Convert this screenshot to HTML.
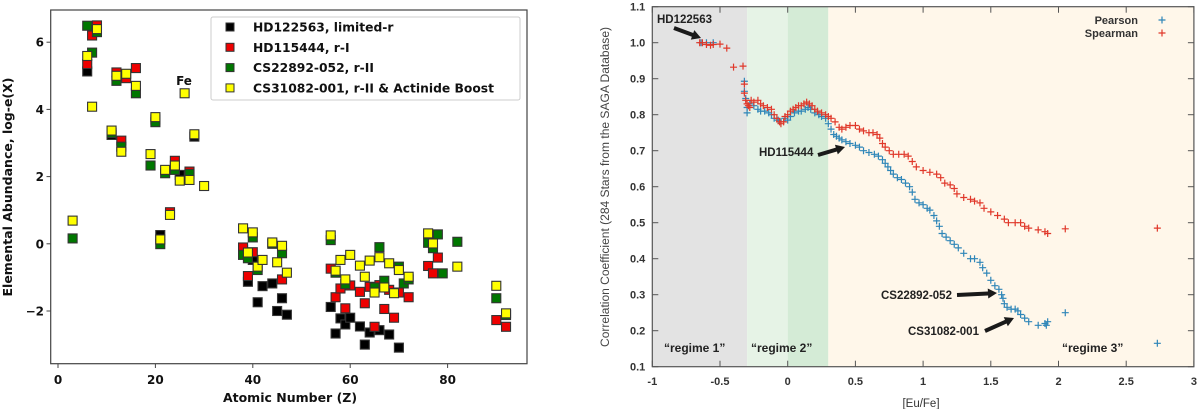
<!DOCTYPE html>
<html><head><meta charset="utf-8"><style>
html,body{margin:0;padding:0;background:#fff;}
svg{display:block;}
</style></head><body>
<svg id="root" width="1200" height="409" viewBox="0 0 1200 409" xmlns="http://www.w3.org/2000/svg">
<g id="left"></g>
<g id="right"></g>
</svg>
<script>
// ===== Left chart data =====
const blackZ=[6,11,21,25,28,38,39,40,41,42,44,45,46,47,56,57,58,59,60,62,63,64,66,68,70];
const blackV=[5.13,3.24,0.26,2.05,3.19,-0.18,-1.13,-0.48,-1.74,-1.26,-1.18,-2.0,-1.62,-2.11,-1.88,-2.67,-2.22,-2.4,-2.2,-2.46,-3.0,-2.64,-2.57,-2.7,-3.09];
const redZ=[6,7,8,12,13,14,16,20,23,24,27,38,39,40,46,56,57,58,59,60,62,63,64,65,66,67,68,69,70,72,76,77,78,90,92];
const redV=[5.35,6.2,6.5,5.1,3.07,4.93,5.23,3.7,0.94,2.47,2.15,-0.11,-0.96,-0.25,-1.06,-0.74,-1.59,-1.33,-1.92,-1.24,-1.43,-1.77,-1.28,-2.47,-1.23,-1.94,-1.37,-2.2,-1.45,-1.59,-0.66,-0.88,-0.41,-2.27,-2.47];
const greenZ=[3,6,7,8,11,12,13,16,19,20,21,22,24,27,38,39,40,41,44,46,56,57,59,65,66,67,70,71,72,76,77,78,79,82,90,92];
const greenV=[0.16,6.49,5.69,6.3,3.3,4.85,2.89,4.48,2.33,3.62,-0.01,2.1,2.2,2.08,-0.33,-0.43,0.19,-0.78,0.0,-0.28,0.11,-0.86,-1.2,-1.3,-0.1,-1.1,-0.68,-1.18,-1.06,0.03,-0.13,0.28,-0.88,0.06,-1.62,-2.12];
const yellowZ=[3,6,7,8,11,12,13,14,16,19,20,21,22,23,24,25,26,27,28,30,38,39,40,41,42,44,45,46,47,56,57,58,59,60,62,63,64,65,66,67,68,69,70,72,76,77,82,90,92];
const yellowV=[0.69,5.59,4.08,6.39,3.37,5.0,2.74,5.06,4.7,2.67,3.77,0.13,2.2,0.86,2.33,1.88,4.48,1.9,3.26,1.72,0.46,-0.26,0.34,-0.68,-0.48,0.04,-0.55,-0.06,-0.86,0.25,-0.8,-0.48,-1.06,-0.33,-0.65,-0.98,-0.5,-1.45,-0.4,-1.3,-0.58,-1.47,-0.78,-0.98,0.31,0.01,-0.68,-1.25,-2.07];
const leftXTicks=[0,20,40,60,80];
const leftYTicks=[6,4,2,0,-2];
const legendLabels=["HD122563, limited-r","HD115444, r-I","CS22892-052, r-II","CS31082-001, r-II & Actinide Boost"];

// ===== Right chart data =====
const spearX=[-0.65,-0.63,-0.6,-0.57,-0.55,-0.5,-0.45,-0.4,-0.33,-0.32,-0.32,-0.31,-0.3,-0.29,-0.28,-0.27,-0.25,-0.22,-0.2,-0.18,-0.15,-0.12,-0.1,-0.08,-0.06,-0.05,-0.03,-0.02,0.0,0.02,0.04,0.06,0.08,0.10,0.12,0.14,0.16,0.18,0.20,0.22,0.25,0.28,0.30,0.32,0.35,0.38,0.40,0.43,0.46,0.5,0.53,0.56,0.6,0.63,0.66,0.68,0.7,0.72,0.75,0.78,0.82,0.86,0.89,0.92,0.95,1.0,1.05,1.1,1.13,1.16,1.2,1.23,1.25,1.3,1.35,1.38,1.42,1.45,1.5,1.55,1.6,1.63,1.68,1.72,1.75,1.78,1.85,1.9,1.92,2.05,2.73];
const spearY=[1.0,1.0,0.995,0.993,0.995,0.996,0.985,0.932,0.935,0.885,0.86,0.84,0.83,0.825,0.82,0.84,0.835,0.84,0.83,0.825,0.82,0.815,0.80,0.79,0.78,0.775,0.78,0.795,0.80,0.81,0.815,0.82,0.825,0.825,0.83,0.835,0.83,0.825,0.815,0.81,0.805,0.80,0.795,0.79,0.78,0.765,0.76,0.765,0.77,0.77,0.76,0.755,0.75,0.75,0.745,0.735,0.72,0.71,0.70,0.69,0.69,0.69,0.685,0.67,0.655,0.645,0.64,0.635,0.625,0.61,0.605,0.595,0.58,0.57,0.565,0.56,0.555,0.54,0.53,0.52,0.51,0.50,0.50,0.50,0.49,0.485,0.48,0.475,0.47,0.483,0.485];
const pearX=[-0.64,-0.6,-0.55,-0.32,-0.32,-0.31,-0.3,-0.3,-0.28,-0.25,-0.22,-0.2,-0.17,-0.14,-0.12,-0.1,-0.07,-0.05,-0.02,0.0,0.02,0.05,0.08,0.1,0.13,0.15,0.17,0.2,0.23,0.25,0.28,0.3,0.32,0.34,0.36,0.38,0.4,0.43,0.46,0.5,0.53,0.56,0.6,0.64,0.67,0.7,0.72,0.74,0.76,0.78,0.81,0.84,0.87,0.9,0.92,0.94,0.97,1.0,1.03,1.05,1.08,1.1,1.12,1.14,1.17,1.2,1.23,1.26,1.3,1.35,1.38,1.42,1.44,1.47,1.5,1.53,1.56,1.58,1.59,1.6,1.62,1.65,1.68,1.7,1.72,1.75,1.78,1.85,1.9,1.92,1.91,2.05,2.73];
const pearY=[1.0,1.0,1.0,0.893,0.865,0.845,0.82,0.805,0.83,0.825,0.815,0.81,0.81,0.805,0.80,0.79,0.785,0.78,0.79,0.785,0.795,0.805,0.81,0.81,0.815,0.82,0.815,0.805,0.8,0.795,0.79,0.775,0.76,0.745,0.74,0.735,0.73,0.725,0.72,0.715,0.71,0.70,0.695,0.69,0.685,0.675,0.665,0.655,0.645,0.635,0.625,0.62,0.61,0.60,0.585,0.565,0.555,0.55,0.54,0.535,0.52,0.505,0.49,0.47,0.46,0.45,0.44,0.43,0.415,0.40,0.40,0.39,0.375,0.36,0.34,0.325,0.315,0.30,0.29,0.275,0.265,0.26,0.26,0.255,0.245,0.235,0.225,0.215,0.22,0.225,0.215,0.25,0.165];
const rightXTicks=[-1,-0.5,0,0.5,1,1.5,2,2.5,3];
const rightXLabels=["-1","-0.5","0","0.5","1","1.5","2","2.5","3"];
const rightYTicks=[1.1,1.0,0.9,0.8,0.7,0.6,0.5,0.4,0.3,0.2,0.1];
const rightYLabels=["1.1","1.0","0.9","0.8","0.7","0.6","0.5","0.4","0.3","0.2","0.1"];
const regimeStarts=[-1,-0.3,0,0.3];
const regimeEnds=[-0.3,0,0.3,3];

const NS="http://www.w3.org/2000/svg";
function mk(parent,tag,attrs,text){const e=document.createElementNS(NS,tag);for(const k in attrs)e.setAttribute(k,attrs[k]);if(text!==undefined)e.textContent=text;parent.appendChild(e);return e;}

// ----- Left chart -----
const L=document.getElementById('left');
const lx=z=>58+z*4.87;
const ly=v=>243.8-v*33.6;
let frame=mk(L,'rect',{x:50.7,y:10,width:476.3,height:353.7,fill:'#fff',stroke:'#444','stroke-width':1.2});


leftXTicks.forEach(t=>{
  const tk=mk(L,'line',{x1:lx(t),x2:lx(t),y1:363.7,y2:368,stroke:'#444','stroke-width':1});
  
  
  const tl=mk(L,'text',{x:lx(t),y:384,'text-anchor':'middle','font-family':'DejaVu Sans, sans-serif','font-weight':'bold','font-size':12,fill:'#111'},String(t));
  
  
});
leftYTicks.forEach(t=>{
  const tk=mk(L,'line',{x1:46.5,x2:50.7,y1:ly(t),y2:ly(t),stroke:'#444','stroke-width':1});
  
  
  const tl=mk(L,'text',{x:44,y:ly(t)+4.5,'text-anchor':'end','font-family':'DejaVu Sans, sans-serif','font-weight':'bold','font-size':12,fill:'#111'},t<0?'\u2212'+Math.abs(t):String(t));
  
  
});
let xt=mk(L,'text',{x:290,y:402,'text-anchor':'middle','font-family':'DejaVu Sans, sans-serif','font-weight':'bold','font-size':12.5,fill:'#111'},'Atomic Number (Z)');


let yt=mk(L,'text',{x:0,y:0,transform:'translate(12,187) rotate(-90)','text-anchor':'middle','font-family':'DejaVu Sans, sans-serif','font-weight':'bold','font-size':12.5,fill:'#111'},'Elemental Abundance, log-e(X)');



const series=[[blackZ,blackV,'#000000','hd122563'],[redZ,redV,'#ee0000','hd115444'],[greenZ,greenV,'#007700','cs22892-052'],[yellowZ,yellowV,'#ffff00','cs31082-001']];
series.forEach(s=>{
  const g=mk(L,'g',{});
  
  
  s[0].forEach((z,i)=>{
    const r=mk(g,'rect',{x:lx(z)-4.5,y:ly(s[1][i])-4.5,width:9,height:9,fill:s[2],stroke:'#333','stroke-width':1.1});
    
    
  });
});
let fe=mk(L,'text',{x:184,y:85,'text-anchor':'middle','font-family':'DejaVu Sans, sans-serif','font-weight':'bold','font-size':12,fill:'#111'},'Fe');


const lg=mk(L,'g',{});


mk(lg,'rect',{x:211,y:17,width:309,height:83,rx:2,fill:'#fff',stroke:'#ccc','stroke-width':1});
legendLabels.forEach((lab,i)=>{
  const yy=27+i*20.3;
  const e=mk(lg,'g',{});
  
  
  mk(e,'rect',{x:226,y:yy-4,width:8,height:8,fill:series[i][2],stroke:'#333','stroke-width':1});
  mk(e,'text',{x:253,y:yy+4.5,'font-family':'DejaVu Sans, sans-serif','font-weight':'bold','font-size':12.3,fill:'#111'},lab);
});

// ----- Right chart -----
const R=document.getElementById('right');
const rx=v=>787.7+v*135.4;
const ry=v=>366.7-(v-0.1)*360;
const regCols=['#e3e3e3','#e6f3e6','#d4ebd6','#fff7ea'];
regimeStarts.forEach((s,i)=>{
  const r=mk(R,'rect',{x:rx(s),y:ry(1.1),width:rx(regimeEnds[i])-rx(s),height:ry(0.1)-ry(1.1),fill:regCols[i]});
  
  
});
let rf=mk(R,'rect',{x:rx(-1),y:ry(1.1),width:rx(3)-rx(-1),height:ry(0.1)-ry(1.1),fill:'none',stroke:'#555','stroke-width':1.2});


rightYTicks.forEach((t,i)=>{
  const g=mk(R,'g',{});
  
  
  mk(g,'line',{x1:rx(-1),x2:rx(-1)+6,y1:ry(t),y2:ry(t),stroke:'#555','stroke-width':1});
  mk(g,'line',{x1:rx(3)-6,x2:rx(3),y1:ry(t),y2:ry(t),stroke:'#555','stroke-width':1});
  mk(g,'text',{x:rx(-1)-7,y:ry(t)+4,'text-anchor':'end','font-family':'Liberation Sans, sans-serif','font-weight':'bold','font-size':11,fill:'#333'},rightYLabels[i]);
});
rightXTicks.forEach((t,i)=>{
  const g=mk(R,'g',{});
  
  
  mk(g,'line',{x1:rx(t),x2:rx(t),y1:ry(0.1),y2:ry(0.1)-6,stroke:'#555','stroke-width':1});
  mk(g,'line',{x1:rx(t),x2:rx(t),y1:ry(1.1),y2:ry(1.1)+6,stroke:'#555','stroke-width':1});
  mk(g,'text',{x:rx(t),y:385,'text-anchor':'middle','font-family':'Liberation Sans, sans-serif','font-weight':'bold','font-size':11,fill:'#333'},rightXLabels[i]);
});
let rxt=mk(R,'text',{x:921,y:407,'text-anchor':'middle','font-family':'Liberation Sans, sans-serif','font-size':11.5,fill:'#333'},'[Eu/Fe]');


let ryt=mk(R,'text',{x:0,y:0,transform:'translate(609,187) rotate(-90)','text-anchor':'middle','font-family':'Liberation Sans, sans-serif','font-size':11.5,fill:'#444',textLength:320,lengthAdjust:'spacingAndGlyphs'},'Correlation Coefficient (284 Stars from the SAGA Database)');



function plus(g,x,y,c){mk(g,'path',{d:`M${x-3.5} ${y}H${x+3.5}M${x} ${y-3.5}V${y+3.5}`,stroke:c,'stroke-width':1.2,fill:'none'});}
const pg=mk(R,'g',{});


pearX.forEach((x,i)=>plus(pg,rx(x),ry(pearY[i]),'#2f86b8'));
const sg=mk(R,'g',{});


spearX.forEach((x,i)=>plus(sg,rx(x),ry(spearY[i]),'#e0382a'));

// legend
const rl=mk(R,'g',{});


mk(rl,'text',{x:1138,y:24,'text-anchor':'end','font-family':'Liberation Sans, sans-serif','font-weight':'bold','font-size':11,fill:'#333'},'Pearson');
plus(rl,1162,20,'#2f86b8');
mk(rl,'text',{x:1138,y:37,'text-anchor':'end','font-family':'Liberation Sans, sans-serif','font-weight':'bold','font-size':11,fill:'#333'},'Spearman');
plus(rl,1162,33,'#e0382a');

// annotations
function arrow(name,x1,y1,x2,y2){
  const g=mk(R,'g',{});
  
  
  const dx=x2-x1,dy=y2-y1,len=Math.hypot(dx,dy),ux=dx/len,uy=dy/len,px=-uy,py=ux;
  const hx=x2-ux*9,hy=y2-uy*9;
  mk(g,'path',{d:`M${x1+px*2} ${y1+py*2}L${hx+px*2} ${hy+py*2}L${hx+px*5} ${hy+py*5}L${x2} ${y2}L${hx-px*5} ${hy-py*5}L${hx-px*2} ${hy-py*2}L${x1-px*2} ${y1-py*2}Z`,fill:'#1a1a1a'});
}
function label(name,x,y,t,bold){const e=mk(R,'text',{x:x,y:y,'font-family':'Liberation Sans, sans-serif','font-weight':'bold','font-size':bold?12:11.5,fill:'#222'},t);
  
  }
label('hd122563-label',657,23,'HD122563');
arrow('hd122563-arrow',674,28,701,38);
label('hd115444-label',759,156,'HD115444');
arrow('hd115444-arrow',818,155,845,147);
label('cs22892-052-label',881,299,'CS22892-052');
arrow('cs22892-052-arrow',957,295,997,293);
label('cs31082-001-label',908,335,'CS31082-001');
arrow('cs31082-001-arrow',985,331,1014,318);
label('regime-1-label',664,352,'\u201cregime 1\u201d',true);
label('regime-2-label',751,352,'\u201cregime 2\u201d',true);
label('regime-3-label',1062,352,'\u201cregime 3\u201d',true);
</script>
</body></html>
